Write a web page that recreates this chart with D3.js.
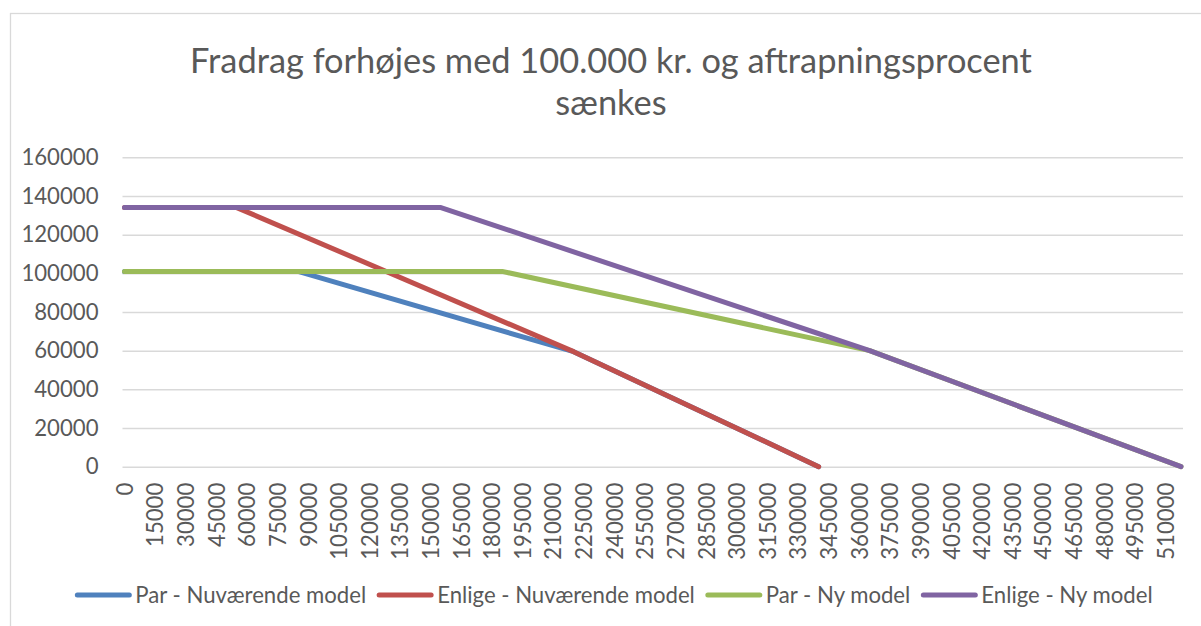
<!DOCTYPE html>
<html>
<head>
<meta charset="utf-8">
<script src="https://cdn.jsdelivr.net/npm/d3@7"></script>
<style>
  body { margin: 0; background: #fff; }
  svg { display: block; }
  text { font-family: Lato, "Open Sans", sans-serif; fill: #595959; }
</style>
</head>
<body>
<svg id="chart"></svg>
<script>
// breakpoints [indkomst, fradrag]
let parNu    = [[0, 101000], [85000, 101000], [220000, 59500], [340000, 0]]
let enligeNu = [[0, 134000], [55000, 134000], [220000, 59500], [340000, 0]]
let parNy    = [[0, 101000], [185000, 101000], [365000, 60000], [517500, 0]]
let enligeNy = [[0, 134000], [155000, 134000], [365000, 60000], [517500, 0]]

let seriesNames = ['Par - Nuværende model', 'Enlige - Nuværende model', 'Par - Ny model', 'Enlige - Ny model']
let seriesColors = ['#4F81BD', '#C0504D', '#9BBB59', '#8064A2']
let xTicks = [0, 15000, 30000, 45000, 60000, 75000, 90000, 105000, 120000, 135000, 150000, 165000,
  180000, 195000, 210000, 225000, 240000, 255000, 270000, 285000, 300000, 315000, 330000, 345000,
  360000, 375000, 390000, 405000, 420000, 435000, 450000, 465000, 480000, 495000, 510000]
let yTicks = [0, 20000, 40000, 60000, 80000, 100000, 120000, 140000, 160000]
let xMax = 517500
let titleLines = ['Fradrag forhøjes med 100.000 kr. og aftrapningsprocent', 'sænkes']

let width = 1201
let height = 626
let svg = d3.select('#chart').attr('width', width).attr('height', height)

// chart frame
svg.append('rect')
  .attr('x', 10.5).attr('y', 13.5)
  .attr('width', 1205).attr('height', 640)
  .attr('fill', '#fff').attr('stroke', '#d9d9d9').attr('stroke-width', 1.3)

// fit font size so texts get roughly the same width as the picture
let fitSize = (txt, target, base) => {
  let t = svg.append('text').style('font-size', base + 'px').text(txt)
  let w = t.node().getComputedTextLength()
  t.remove()
  return base * target / w
}
let labelSize = fitSize('Par - Nuværende model', 231, 20)
let titleSize = fitSize(titleLines[0], 842, 30)

let xScale = d3.scaleLinear().domain([0, xMax]).range([124.5, 1181])
let yScale = d3.scaleLinear().domain([0, 160000]).range([466.7, 157.3])

// gridlines
let yAxis = d3.axisLeft(yScale).tickValues(yTicks).tickSize(-(1183 - 122.5)).tickPadding(24).tickFormat(d3.format('d'))
let gy = svg.append('g').attr('transform', 'translate(122.5,0)').call(yAxis)
gy.select('.domain').remove()
gy.selectAll('line').attr('stroke', '#d9d9d9').attr('stroke-width', 1.5)
gy.selectAll('text').style('font-size', labelSize + 'px').attr('fill', '#595959')
  .attr('font-family', 'Lato, "Open Sans", sans-serif')

// x axis, rotated category labels
let xAxis = d3.axisBottom(xScale).tickValues(xTicks).tickSize(0).tickFormat(d3.format('d'))
let gx = svg.append('g').attr('transform', 'translate(0,466.7)').call(xAxis)
gx.select('.domain').remove()
gx.selectAll('text')
  .style('font-size', labelSize + 'px').attr('fill', '#595959')
  .attr('font-family', 'Lato, "Open Sans", sans-serif')
  .attr('text-anchor', 'end')
  .attr('dy', '0.35em')
  .attr('transform', 'translate(0,16) rotate(-90)')
  .attr('x', 0).attr('y', 0)

// lines
let line = d3.line().x(d => xScale(d[0])).y(d => yScale(d[1]))
let allSeries = [parNu, enligeNu, parNy, enligeNy]
svg.selectAll('.serie')
  .data(allSeries)
  .enter()
  .append('path')
  .attr('class', 'serie')
  .attr('d', d => line(d))
  .attr('fill', 'none')
  .attr('stroke', (d, i) => seriesColors[i])
  .attr('stroke-width', 5)
  .attr('stroke-linecap', 'round')
  .attr('stroke-linejoin', 'round')

// title
svg.selectAll('.title')
  .data(titleLines)
  .enter()
  .append('text')
  .attr('class', 'title')
  .attr('x', 611)
  .attr('y', (d, i) => 73 + i * 42)
  .attr('text-anchor', 'middle')
  .style('font-size', titleSize + 'px')
  .text(d => d)

// legend, centred
let legend = svg.append('g')
let lx = 0
seriesNames.forEach((name, i) => {
  let item = legend.append('g').attr('transform', 'translate(' + lx + ',0)')
  item.append('line')
    .attr('x1', 2).attr('x2', 54).attr('y1', 0).attr('y2', 0)
    .attr('stroke', seriesColors[i]).attr('stroke-width', 5).attr('stroke-linecap', 'round')
  let t = item.append('text')
    .attr('x', 60).attr('y', 0).attr('dy', '0.35em')
    .style('font-size', labelSize + 'px')
    .text(name)
  lx += 60 + t.node().getComputedTextLength() + 11
})
let legendW = lx - 11
legend.attr('transform', 'translate(' + (614 - legendW / 2) + ',595)')
</script>
</body>
</html>
